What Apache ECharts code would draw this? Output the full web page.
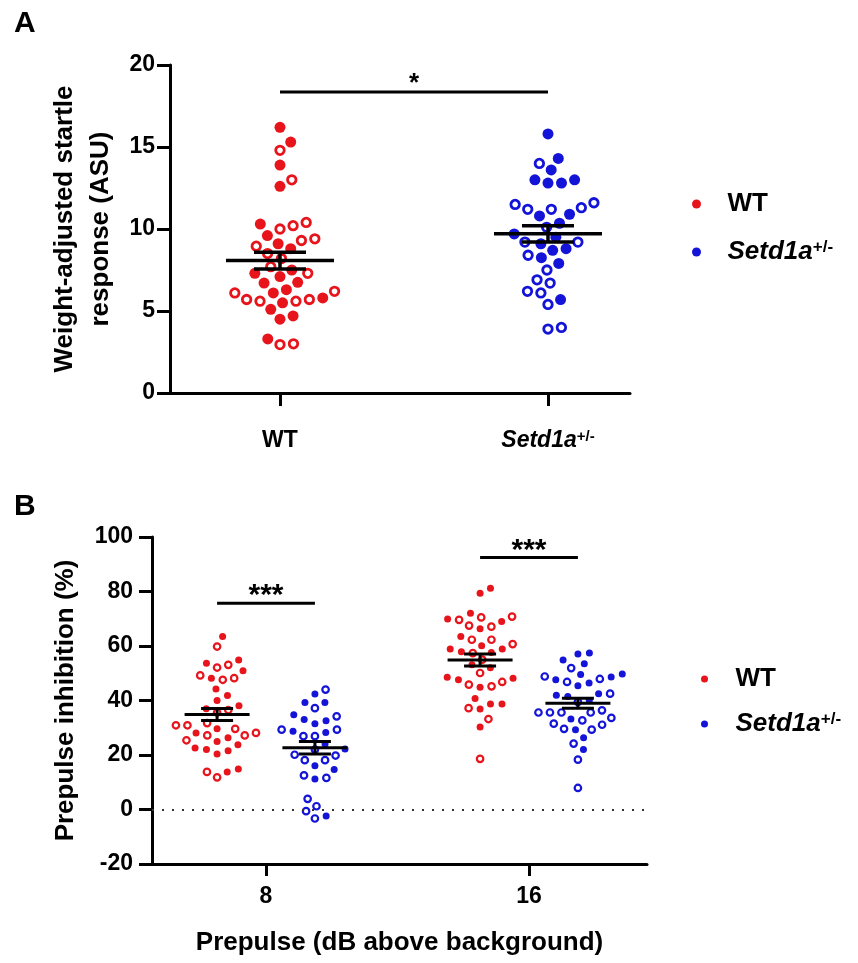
<!DOCTYPE html>
<html><head><meta charset="utf-8">
<script src="https://cdn.jsdelivr.net/npm/echarts@6/dist/echarts.min.js"></script>
<style>html,body{margin:0;padding:0;background:#fff}#c{width:858px;height:963px}</style>
</head><body><div id="c"></div>
<script>
// ---------------- DATA ----------------
// Panel A: weight-adjusted startle response (ASU)
const groupsA = ['WT', 'Setd1a+/-'];
const yTicksA = [0, 5, 10, 15, 20];
const wtA_filled  = [16.2, 15.3, 13.9, 12.6, 10.3, 9.6, 9.1, 8.8, 7.5, 7.3, 7.1, 6.75, 6.7, 6.3, 6.1, 5.8, 5.5, 5.1, 4.7, 4.5, 3.3];
const wtA_open    = [14.8, 13.0, 10.4, 10.2, 10.0, 9.4, 9.3, 8.95, 8.5, 8.2, 7.7, 7.3, 6.2, 6.1, 5.7, 5.7, 5.6, 5.6, 3.0, 2.95];
const hetA_filled = [15.8, 14.3, 13.6, 13.0, 13.0, 12.8, 12.8, 10.9, 10.8, 10.35, 9.7, 9.5, 9.1, 8.8, 8.7, 8.25, 7.9, 5.7];
const hetA_open   = [14.0, 11.6, 11.5, 11.3, 11.2, 11.2, 10.1, 9.2, 9.2, 8.4, 7.5, 6.9, 6.7, 6.2, 6.1, 5.4, 4.0, 3.9];
const sigA = ['*'];

// Panel B: prepulse inhibition (%)
const prepulses = ['8', '16'];
const yTicksB = [-20, 0, 20, 40, 60, 80, 100];
const wtB8_filled  = [63.5, 54.9, 53.7, 50.9, 48.2, 44.2, 41.8, 40.0, 38.1, 37.0, 29.6, 28.1, 26.3, 25.0, 23.8, 22.6, 22.0, 21.6, 20.4, 14.9, 13.8];
const wtB8_open    = [59.8, 53.1, 52.1, 49.2, 48.2, 47.6, 36.5, 35.6, 31.7, 30.9, 30.9, 29.6, 28.1, 27.2, 27.2, 25.4, 13.8, 11.8];
const hetB8_filled = [42.4, 39.3, 39.3, 34.8, 33.0, 32.6, 31.5, 28.7, 28.3, 24.0, 22.2, 16.1, 14.7, 11.2, -2.4];
const hetB8_open   = [44.0, 37.2, 34.2, 29.3, 29.3, 26.9, 26.9, 22.0, 20.1, 19.8, 18.1, 18.1, 12.5, 11.6, 3.9, 1.2, -0.6, -3.3];
const wtB16_filled = [81.2, 79.4, 72.0, 69.9, 69.0, 66.3, 63.5, 60.1, 58.9, 58.9, 57.9, 57.6, 53.1, 52.0, 48.5, 48.2, 47.6, 44.9, 40.7, 38.7, 38.7, 36.9, 30.3];
const wtB16_open   = [70.8, 70.5, 69.6, 67.5, 67.1, 62.3, 62.3, 60.7, 57.4, 55.0, 50.1, 46.8, 45.8, 45.2, 37.2, 33.2, 18.6];
const hetB16_filled= [57.4, 57.1, 54.9, 53.5, 49.7, 49.5, 48.6, 47.6, 46.4, 45.4, 42.5, 41.9, 41.5, 40.0, 33.2, 29.3, 26.3, 22.0];
const hetB16_open  = [51.9, 48.8, 47.9, 46.8, 42.5, 39.5, 36.4, 35.6, 35.6, 35.6, 35.6, 33.6, 32.7, 31.5, 31.1, 29.6, 29.3, 24.2, 18.3, 7.9];
const sigB = ['***', '***'];

// ---------------- STYLE / LAYOUT ----------------
const RED = '#e8141c', BLUE = '#1414d8';
const FONT = '"Liberation Sans", Arial, Helvetica, sans-serif';
const LA = {left:170, top:65, width:460, height:328, xmin:0.5896, xmax:2.306, ymin:0, ymax:20};
const LB = {left:152, top:537, width:495, height:327, xmin:0.5665, xmax:2.4487, ymin:-20, ymax:100};
const offB = 0.186;

function meanSem(arr){
  const n = arr.length, m = arr.reduce((a,b)=>a+b,0)/n;
  const sd = Math.sqrt(arr.reduce((a,b)=>a+(b-m)*(b-m),0)/(n-1));
  return [m, sd/Math.sqrt(n)];
}

// beeswarm layout (pixel space), returns data-space points
function swarm(filled, open, center, L, d){
  const sx = L.width/(L.xmax-L.xmin), sy = L.height/(L.ymax-L.ymin);
  const pts = filled.map(v=>({v, f:true})).concat(open.map(v=>({v, f:false})));
  pts.forEach(p=>p.py = p.v*sy);
  pts.sort((a,b)=>a.py-b.py);
  const placed = [];
  for (const p of pts){
    const cands = [0];
    for (const q of placed){
      const dy = Math.abs(q.py-p.py);
      if (dy < d){ const dx = Math.sqrt(d*d-dy*dy); cands.push(q.px+dx, q.px-dx); }
    }
    cands.sort((a,b)=>Math.abs(a)-Math.abs(b));
    for (const c of cands){
      if (placed.every(q => (q.px-c)*(q.px-c)+(q.py-p.py)*(q.py-p.py) >= d*d-1e-6)){ p.px = c; break; }
    }
    placed.push(p);
  }
  return {
    filled: pts.filter(p=>p.f).map(p=>[center+p.px/sx, p.v]),
    open: pts.filter(p=>!p.f).map(p=>[center+p.px/sx, p.v])
  };
}

const series = [];
function addGroup(name, xi, filled, open, center, L, d, color, fs, os, bw){
  const s = swarm(filled, open, center, L, d);
  series.push({type:'scatter', name, xAxisIndex:xi, yAxisIndex:xi, symbol:'circle', symbolSize:fs,
    itemStyle:{color, opacity:1}, data:s.filled, z:2, silent:true});
  series.push({type:'scatter', name, xAxisIndex:xi, yAxisIndex:xi, symbol:'circle', symbolSize:os,
    itemStyle:{color:'#fff', borderColor:color, borderWidth:bw, opacity:1}, data:s.open, z:2, silent:true});
}
addGroup('WT_A', 0, wtA_filled, wtA_open, 1, LA, 13.5, RED, 11, 8.5, 2.8);
addGroup('Het_A', 0, hetA_filled, hetA_open, 2, LA, 13.5, BLUE, 11, 8.5, 2.8);
addGroup('WT_B', 1, wtB8_filled, wtB8_open, 1-offB, LB, 11.5, RED, 7, 6.5, 2.2);
addGroup('Het_B', 1, hetB8_filled, hetB8_open, 1+offB, LB, 11.5, BLUE, 7, 6.5, 2.2);
addGroup('WT_B', 1, wtB16_filled, wtB16_open, 2-offB, LB, 11.5, RED, 7, 6.5, 2.2);
addGroup('Het_B', 1, hetB16_filled, hetB16_open, 2+offB, LB, 11.5, BLUE, 7, 6.5, 2.2);

function meanSemSeries(xi, items, halfMean, halfCap, lw){
  return {type:'custom', xAxisIndex:xi, yAxisIndex:xi, z:6, silent:true, data:items,
    renderItem(params, api){
      const x = api.value(0), m = api.value(1), s = api.value(2);
      const pm = api.coord([x,m]), pu = api.coord([x,m+s]), pl = api.coord([x,m-s]);
      const st = {stroke:'#000', lineWidth:lw};
      return {type:'group', children:[
        {type:'line', shape:{x1:pm[0]-halfMean, y1:pm[1], x2:pm[0]+halfMean, y2:pm[1]}, style:st},
        {type:'line', shape:{x1:pu[0], y1:pu[1], x2:pl[0], y2:pl[1]}, style:st},
        {type:'line', shape:{x1:pu[0]-halfCap, y1:pu[1], x2:pu[0]+halfCap, y2:pu[1]}, style:st},
        {type:'line', shape:{x1:pl[0]-halfCap, y1:pl[1], x2:pl[0]+halfCap, y2:pl[1]}, style:st}
      ]};
    }};
}
series.push(meanSemSeries(0, [
  [1].concat(meanSem(wtA_filled.concat(wtA_open))),
  [2].concat(meanSem(hetA_filled.concat(hetA_open)))
], 54, 26, 3.5));
series.push(meanSemSeries(1, [
  [1-offB].concat(meanSem(wtB8_filled.concat(wtB8_open))),
  [1+offB].concat(meanSem(hetB8_filled.concat(hetB8_open))),
  [2-offB].concat(meanSem(wtB16_filled.concat(wtB16_open))),
  [2+offB].concat(meanSem(hetB16_filled.concat(hetB16_open)))
], 32.5, 16, 3));

function sigSeries(xi, items, labels, fs, gap){
  return {type:'custom', xAxisIndex:xi, yAxisIndex:xi, z:6, silent:true, data:items,
    renderItem(params, api){
      const p1 = api.coord([api.value(0), api.value(2)]), p2 = api.coord([api.value(1), api.value(2)]);
      return {type:'group', children:[
        {type:'line', shape:{x1:p1[0], y1:p1[1], x2:p2[0], y2:p2[1]}, style:{stroke:'#000', lineWidth:3}},
        {type:'text', x:(p1[0]+p2[0])/2, y:p1[1]-gap,
          style:{text:labels[params.dataIndex], fill:'#000', font:'bold '+fs+'px '+FONT, align:'center', verticalAlign:'middle'}}
      ]};
    }};
}
series.push(sigSeries(0, [[1, 2, 18.35]], sigA, 26, 8));
series.push(sigSeries(1, [[1-offB, 1+offB, 75.7], [2-offB, 2+offB, 92.5]], sigB, 30, 7));

// zero reference line in B
series.push({type:'line', xAxisIndex:1, yAxisIndex:1, data:[], silent:true,
  markLine:{silent:true, symbol:'none', label:{show:false}, animation:false,
    lineStyle:{color:'#333', type:[2,8], width:2}, data:[{yAxis:0}]}});

const rich = {
  i:{fontStyle:'italic', fontWeight:'bold', fontSize:23, fontFamily:FONT, color:'#000'},
  s:{fontWeight:'bold', fontSize:15, fontFamily:FONT, color:'#000', verticalAlign:'top'}
};
const richL = {
  i:{fontStyle:'italic', fontWeight:'bold', fontSize:26, fontFamily:FONT, color:'#000'},
  s:{fontWeight:'bold', fontSize:17, fontFamily:FONT, color:'#000', verticalAlign:'top'}
};
const legendFmt = n => n.indexOf('WT') === 0 ? 'WT' : '{i|Setd1a}{s|+/-}';

function yAxis(gi, L, ticks, name, nameGap, margin){
  return {type:'value', gridIndex:gi, min:L.ymin, max:L.ymax, interval:ticks[1]-ticks[0],
    name, nameLocation:'middle', nameRotate:90, nameGap,
    nameTextStyle:{fontSize:26, fontWeight:'bold', color:'#000', fontFamily:FONT, lineHeight:36},
    axisLine:{show:true, onZero:false, lineStyle:{color:'#000', width:3}},
    axisTick:{show:true, length:13, lineStyle:{color:'#000', width:3}},
    axisLabel:{fontSize:23, fontWeight:'bold', color:'#000', fontFamily:FONT, margin},
    splitLine:{show:false}};
}

const option = {
  animation:false,
  backgroundColor:'#fff',
  textStyle:{fontFamily:FONT},
  title:[
    {text:'A', left:14, top:9, padding:0, textStyle:{fontSize:30, fontWeight:'bold', color:'#000', fontFamily:FONT}},
    {text:'B', left:14, top:492, padding:0, textStyle:{fontSize:30, fontWeight:'bold', color:'#000', fontFamily:FONT}}
  ],
  grid:[
    {left:LA.left, top:LA.top, width:LA.width, height:LA.height, containLabel:false, outerBoundsMode:'none'},
    {left:LB.left, top:LB.top, width:LB.width, height:LB.height, containLabel:false, outerBoundsMode:'none'}
  ],
  xAxis:[
    {type:'value', gridIndex:0, min:LA.xmin, max:LA.xmax,
      axisLine:{show:true, onZero:false, lineStyle:{color:'#000', width:3}},
      axisTick:{show:true, customValues:[1,2], length:13, lineStyle:{color:'#000', width:3}},
      axisLabel:{customValues:[1,2], margin:36, fontSize:23, fontWeight:'bold', color:'#000', fontFamily:FONT,
        formatter:v => Math.round(v)===1 ? groupsA[0] : '{i|Setd1a}{s|+/-}', rich},
      splitLine:{show:false}},
    {type:'value', gridIndex:1, min:LB.xmin, max:LB.xmax,
      name:'Prepulse (dB above background)', nameLocation:'middle', nameGap:66,
      nameTextStyle:{fontSize:26, fontWeight:'bold', color:'#000', fontFamily:FONT},
      axisLine:{show:true, onZero:false, lineStyle:{color:'#000', width:3}},
      axisTick:{show:true, customValues:[1,2], length:12, lineStyle:{color:'#000', width:3}},
      axisLabel:{customValues:[1,2], margin:21, fontSize:23, fontWeight:'bold', color:'#000', fontFamily:FONT,
        formatter:v => prepulses[Math.round(v)-1]},
      splitLine:{show:false}}
  ],
  yAxis:[
    yAxis(0, LA, yTicksA, 'Weight-adjusted startle\nresponse (ASU)', 47, 15),
    yAxis(1, LB, yTicksB, 'Prepulse inhibition (%)', 67, 19)
  ],
  legend:[
    {orient:'vertical', left:692, top:191, padding:0, itemWidth:52, itemHeight:9, itemGap:22, icon:'circle',
      selectedMode:false, formatter:legendFmt,
      data:[{name:'WT_A', itemStyle:{color:RED, borderWidth:0}}, {name:'Het_A', itemStyle:{color:BLUE, borderWidth:0}}],
      textStyle:{fontSize:26, fontWeight:'bold', color:'#000', fontFamily:FONT, rich:richL}},
    {orient:'vertical', left:701, top:666, padding:0, itemWidth:52, itemHeight:7, itemGap:19, icon:'circle',
      selectedMode:false, formatter:legendFmt,
      data:[{name:'WT_B', itemStyle:{color:RED, borderWidth:0}}, {name:'Het_B', itemStyle:{color:BLUE, borderWidth:0}}],
      textStyle:{fontSize:26, fontWeight:'bold', color:'#000', fontFamily:FONT, rich:richL}}
  ],
  series
};
const chart = echarts.init(document.getElementById('c'), null, {renderer:'canvas'});
chart.setOption(option);
</script></body></html>
